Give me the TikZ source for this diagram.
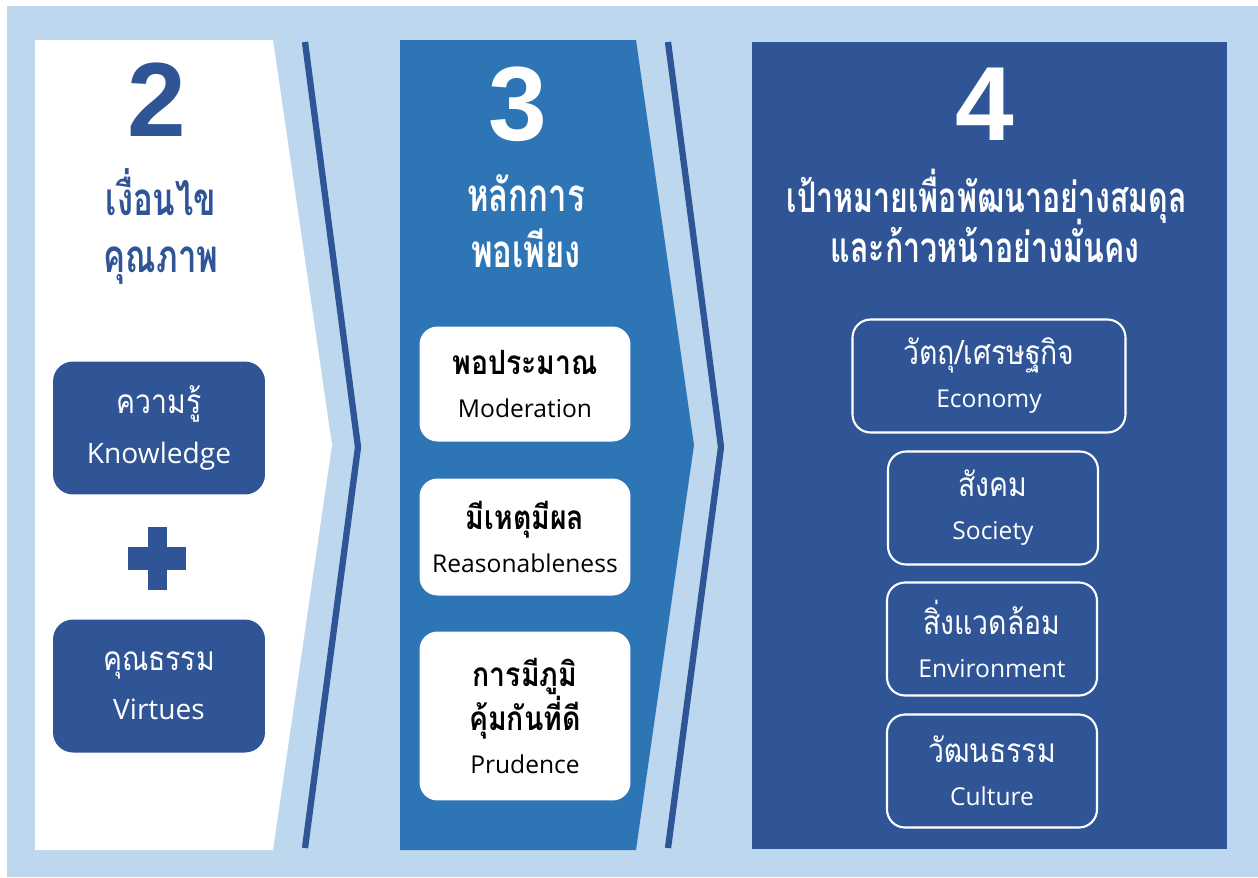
\documentclass[tikz,border=0pt]{standalone}
\usepackage{fontspec}
\usepackage{xcolor}
\usepackage{tikz}
\setmainfont[Script=Thai,FakeStretch=0.85]{Loma}
\newfontfamily\headfont[Script=Thai,FakeStretch=0.72]{Loma}
\newfontfamily\latinfont{Open Sans}
\newfontfamily\numfont{Liberation Sans}
\definecolor{darkblue}{HTML}{2F5597}
\definecolor{midblue}{HTML}{2E75B6}
\definecolor{paleblue}{HTML}{BDD7EE}
\newcommand{\thaisize}{\fontsize{19}{19}\selectfont}
\newcommand{\engsize}{\latinfont\fontsize{14}{14}\selectfont}

\begin{document}
\begin{tikzpicture}[x=0.02cm,y=-0.02cm,
  bignum/.style={font=\numfont\bfseries\fontsize{60}{60}\selectfont},
  headtext/.style={anchor=base,font=\headfont\bfseries\fontsize{26}{26}\selectfont},
  titletext/.style={anchor=base,text=white,font=\headfont\bfseries\fontsize{24}{24}\selectfont},
  leftbox/.style={fill=darkblue,text=white,rounded corners=0.4cm,minimum width=4.24cm,minimum height=2.66cm,align=center,font=\fontsize{19}{28}\selectfont},
  midbox/.style={fill=white,text=black,rounded corners=0.36cm,minimum width=4.22cm,align=center,font=\fontsize{19}{24.5}\selectfont},
  rightbox/.style={draw=white,line width=1.2pt,text=white,rounded corners=0.36cm,minimum height=2.26cm,align=center,font=\fontsize{19}{24.5}\selectfont},
  sepline/.style={darkblue,line width=3.6pt}]
\useasboundingbox (0,0) rectangle (1258,877);
\fill[paleblue] (7,6) rectangle (1258,877);

% the three panels
\fill[white] (35,40) -- (273,40) -- (332,445) -- (273,850) -- (35,850) -- cycle;
\fill[midblue] (400,40) -- (636,40) -- (694,445) -- (636,850) -- (400,850) -- cycle;
\fill[darkblue] (752,42) rectangle (1227,849);
\draw[sepline] (305,42) -- (358,447) -- (305,848);
\draw[sepline] (668,42) -- (721,447) -- (668,848);

% panel 2
\node[bignum,text=darkblue] (num2) at (157,100) {2};
\node[headtext,text=darkblue] (head2a) at (161,215) {เงื่อนไข};
\node[headtext,text=darkblue] (head2b) at (161,272) {คุณภาพ};
\node[leftbox] (knowledge) at (159,428) {{\thaisize ความรู้}\\{\latinfont\fontsize{16}{16}\selectfont Knowledge}};
\fill[darkblue] (128,547) rectangle (186,570);
\fill[darkblue] (148,527) rectangle (167,590);
\node[leftbox] (virtues) at (159,686) {{\thaisize คุณธรรม}\\{\latinfont\fontsize{16}{16}\selectfont Virtues}};

% panel 3
\node[bignum,text=white] (num3) at (518,104) {3};
\node[headtext,text=white] (head3a) at (526,211) {หลักการ};
\node[headtext,text=white] (head3b) at (526,267) {พอเพียง};
\node[midbox,minimum height=2.3cm] (moderation) at (525,384) {{\thaisize\bfseries พอประมาณ}\\{\engsize Moderation}};
\node[midbox,minimum height=2.34cm] (reason) at (525,537) {{\thaisize\bfseries มีเหตุมีผล}\\{\engsize Reasonableness}};
\node[midbox,minimum height=3.38cm] (prudence) at (525,716) {{\thaisize\bfseries การมีภูมิ}\\{\thaisize\bfseries คุ้มกันที่ดี}\\{\engsize Prudence}};

% panel 4
\node[bignum,text=white] (num4) at (985,104) {4};
\node[titletext] (title4a) at (987,212) {เป้าหมายเพื่อพัฒนาอย่างสมดุล};
\node[titletext] (title4b) at (985,262) {และก้าวหน้าอย่างมั่นคง};
\node[rightbox,minimum width=5.46cm] (economy) at (989,376) {{\thaisize วัตถุ/เศรษฐกิจ}\\{\engsize Economy}};
\node[rightbox,minimum width=4.2cm] (society) at (993,508) {{\thaisize สังคม}\\{\engsize Society}};
\node[rightbox,minimum width=4.2cm] (environment) at (992,639) {{\thaisize สิ่งแวดล้อม}\\{\engsize Environment}};
\node[rightbox,minimum width=4.2cm] (culture) at (992,771) {{\thaisize วัฒนธรรม}\\{\engsize Culture}};
\end{tikzpicture}
\end{document}
